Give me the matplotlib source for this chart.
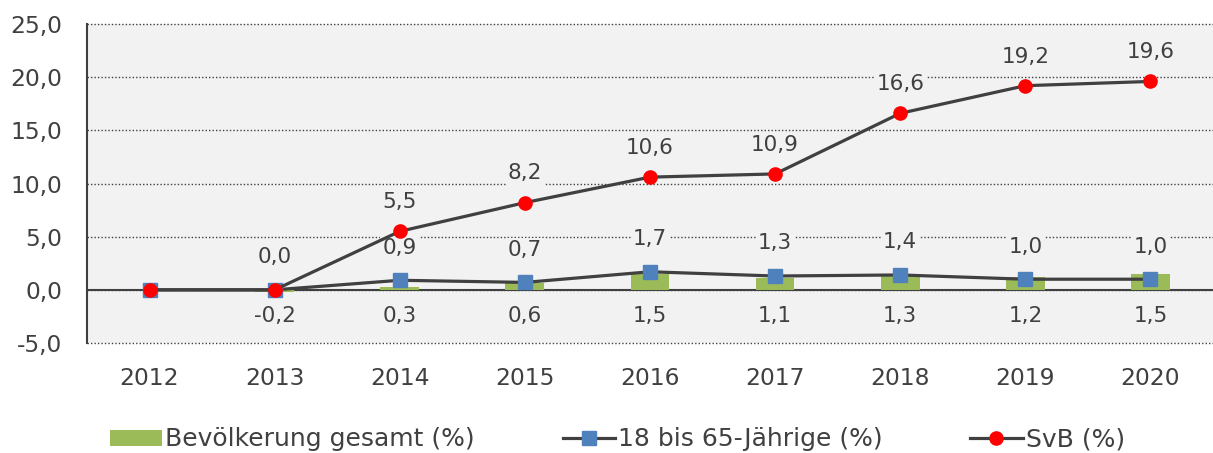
import matplotlib
matplotlib.use("Agg")
import matplotlib.pyplot as plt
from matplotlib.patches import Patch
from matplotlib.lines import Line2D

# Data
years = ["2012", "2013", "2014", "2015", "2016", "2017", "2018", "2019", "2020"]
bev_gesamt = [0.0, -0.2, 0.3, 0.6, 1.5, 1.1, 1.3, 1.2, 1.5]
jaehrige_18_65 = [0.0, 0.0, 0.9, 0.7, 1.7, 1.3, 1.4, 1.0, 1.0]
svb = [0.0, 0.0, 5.5, 8.2, 10.6, 10.9, 16.6, 19.2, 19.6]
y_ticks = [-5, 0, 5, 10, 15, 20, 25]


def fmt(v):
    return f"{v:.1f}".replace(".", ",")


txt_col = "#404040"
bg_col = "#F2F2F2"

fig = plt.figure(figsize=(12.13, 4.53), dpi=100)
ax = fig.add_axes([0.0717, 0.2428, 0.9283, 0.7042])
ax.set_facecolor(bg_col)

x = list(range(len(years)))

ax.bar(x, bev_gesamt, width=0.31, color="#9BBB59", zorder=1)
ax.plot(x, jaehrige_18_65, color=txt_col, lw=2.3, marker="s", ms=9.5,
        mfc="#4F81BD", mec="#4F81BD", zorder=3)
ax.plot(x, svb, color=txt_col, lw=2.3, marker="o", ms=9.5,
        mfc="#FF0000", mec="#FF0000", zorder=4)

# data labels
lab_kw = dict(ha="center", va="center", fontsize=15.5, color=txt_col,
              textcoords="offset points", zorder=1.5,
              bbox=dict(facecolor=bg_col, edgecolor="none", pad=1.5))
for i in range(1, len(years)):
    ax.annotate(fmt(bev_gesamt[i]), (i, 0), xytext=(0, -19), **lab_kw)
    ax.annotate(fmt(jaehrige_18_65[i]), (i, jaehrige_18_65[i]), xytext=(0, 23.5), **lab_kw)
    if i >= 2:
        ax.annotate(fmt(svb[i]), (i, svb[i]), xytext=(0, 21), **lab_kw)

ax.set_xlim(-0.5, len(years) - 0.5)
ax.set_ylim(-5, 25)
ax.set_yticks(y_ticks)
ax.set_yticklabels([fmt(v) for v in y_ticks])
ax.set_xticks(x)
ax.set_xticklabels(years)
ax.tick_params(axis="both", length=0, labelsize=16.8, colors=txt_col)
ax.tick_params(axis="y", pad=18)
ax.tick_params(axis="x", pad=17)

ax.set_axisbelow(True)
ax.grid(axis="y", linestyle=(0, (1, 1.5)), color=txt_col, lw=1.0)
for gl in ax.get_ygridlines():
    gl.set_clip_on(False)
ax.axhline(0, color=txt_col, lw=1.5, zorder=0.8)

for s in ["top", "right", "bottom"]:
    ax.spines[s].set_visible(False)
ax.spines["left"].set_color(txt_col)
ax.spines["left"].set_linewidth(1.5)

handles = [
    Patch(facecolor="#9BBB59", edgecolor="none"),
    Line2D([], [], color=txt_col, lw=2.3, marker="s", ms=9.5, mfc="#4F81BD", mec="#4F81BD"),
    Line2D([], [], color=txt_col, lw=2.3, marker="o", ms=9.5, mfc="#FF0000", mec="#FF0000"),
]
labels = ["Bevölkerung gesamt (%)", "18 bis 65-Jährige (%)", "SvB (%)"]
fig.legend(handles, labels, loc="center", bbox_to_anchor=(0.509, 0.03), ncol=3,
           frameon=False, fontsize=18, labelcolor=txt_col, handlelength=2.1,
           handletextpad=0.12, columnspacing=3.5, handleheight=0.6)

fig.savefig("out.png", dpi=100, facecolor="white")
